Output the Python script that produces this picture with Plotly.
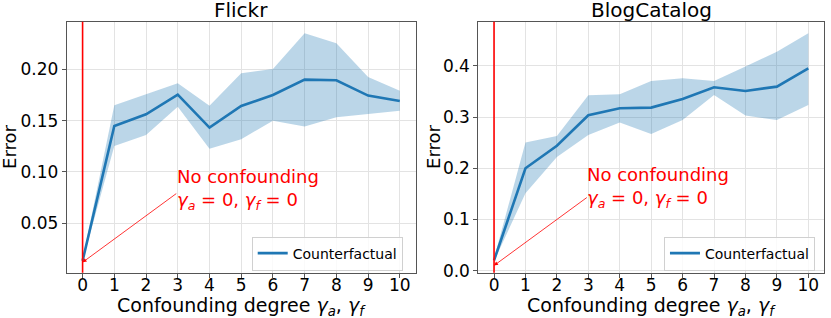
import plotly.graph_objects as go

degrees = list(range(11))

flickr_mean = [0.0135, 0.1448, 0.1562, 0.1753, 0.1432, 0.1643, 0.1750, 0.1900, 0.1893, 0.1744, 0.1692]
flickr_upper = [0.0150, 0.1650, 0.1757, 0.1864, 0.1646, 0.1962, 0.2003, 0.2352, 0.2254, 0.1925, 0.1792]
flickr_lower = [0.0131, 0.1253, 0.1361, 0.1636, 0.1227, 0.1319, 0.1500, 0.1442, 0.1533, 0.1562, 0.1597]

blog_mean = [0.0200, 0.2000, 0.2440, 0.3037, 0.3174, 0.3186, 0.3355, 0.3584, 0.3512, 0.3596, 0.3955]
blog_upper = [0.0240, 0.2502, 0.2633, 0.3427, 0.3447, 0.3707, 0.3760, 0.3707, 0.3987, 0.4280, 0.4639]
blog_lower = [0.0183, 0.1510, 0.2220, 0.2652, 0.2893, 0.2672, 0.2945, 0.3434, 0.3030, 0.2945, 0.3238]

titles = ["Flickr", "BlogCatalog"]
series_name = "Counterfactual"
FONT = "DejaVu Sans"
BLUE = "#1f77b4"
BAND = "rgba(31,119,180,0.3)"

fig = go.Figure()

panels = [
    (flickr_mean, flickr_upper, flickr_lower, "x", "y", "legend"),
    (blog_mean, blog_upper, blog_lower, "x2", "y2", "legend2"),
]
for mean, up, lo, xa, ya, lg in panels:
    fig.add_trace(go.Scatter(x=degrees, y=up, mode="lines", line=dict(width=0, color=BAND),
                             showlegend=False, xaxis=xa, yaxis=ya, hoverinfo="skip"))
    fig.add_trace(go.Scatter(x=degrees, y=lo, mode="lines", line=dict(width=0, color=BAND),
                             fill="tonexty", fillcolor=BAND, showlegend=False,
                             xaxis=xa, yaxis=ya, hoverinfo="skip"))
    fig.add_trace(go.Scatter(x=degrees, y=mean, mode="lines", line=dict(width=2.6, color=BLUE),
                             name=series_name, showlegend=True, legend=lg,
                             xaxis=xa, yaxis=ya))

xtitle = "Confounding degree <i>γ</i><sub><i>a</i></sub>, <i>γ</i><sub><i>f</i></sub>"
common_axis = dict(showline=True, linecolor="#555", linewidth=1, mirror=True,
                   showgrid=True, gridcolor="#e3e3e3", gridwidth=1, zeroline=False,
                   ticks="outside", ticklen=4, tickcolor="#555",
                   tickfont=dict(family=FONT, size=17, color="black"), automargin=False)

fig.update_layout(
    width=831, height=318,
    margin=dict(l=0, r=0, t=0, b=0),
    plot_bgcolor="white", paper_bgcolor="white",
    font=dict(family=FONT, color="black"),
    xaxis=dict(domain=[0.0803, 0.5002], range=[-0.5, 10.5], tickvals=degrees, anchor="y",
               ticklabelstandoff=-7, **common_axis),
    yaxis=dict(domain=[0.1425, 0.9318], range=[0.0019, 0.2464], tickvals=[0.05, 0.10, 0.15, 0.20],
               tickformat=".2f", anchor="x", **common_axis),
    xaxis2=dict(domain=[0.5756, 0.9916], range=[-0.5, 10.5], tickvals=degrees, anchor="y2",
                ticklabelstandoff=-7, **common_axis),
    yaxis2=dict(domain=[0.1425, 0.9318], range=[-0.004, 0.4865], tickvals=[0.0, 0.1, 0.2, 0.3, 0.4],
                tickformat=".1f", anchor="x2", **common_axis),
    legend=dict(x=0.3029, y=0.2028, xanchor="left", yanchor="middle",
                bgcolor="rgba(255,255,255,0.8)", bordercolor="#d0d0d0", borderwidth=1,
                font=dict(family=FONT, size=14), itemwidth=30),
    legend2=dict(x=0.799, y=0.2028, xanchor="left", yanchor="middle",
                 bgcolor="rgba(255,255,255,0.8)", bordercolor="#d0d0d0", borderwidth=1,
                 font=dict(family=FONT, size=14), itemwidth=30),
)

for xa, ya in [("x", "y"), ("x2", "y2")]:
    fig.add_shape(type="line", xref=xa, yref=ya + " domain", x0=0, x1=0, y0=0, y1=1,
                  line=dict(color="red", width=1.6))

# titles and axis titles
for xa, t in zip(["x", "x2"], titles):
    fig.add_annotation(text=t, xref=xa + " domain", yref="paper", x=0.5, y=0.9686,
                       xanchor="center", yanchor="middle", showarrow=False,
                       font=dict(family=FONT, size=20, color="black"))
    fig.add_annotation(text=xtitle, xref=xa + " domain", yref="paper", x=0.5, y=0.036,
                       xanchor="center", yanchor="middle", showarrow=False,
                       font=dict(family=FONT, size=19, color="black"))
for xpos in [0.0108, 0.521]:
    fig.add_annotation(text="Error", xref="paper", yref="paper", x=xpos, y=0.5377,
                       xanchor="center", yanchor="middle", textangle=-90, showarrow=False,
                       font=dict(family=FONT, size=18, color="black"))

note = "No confounding<br><i>γ</i><sub><i>a</i></sub> = 0, <i>γ</i><sub><i>f</i></sub> = 0"
annots = [("x", "y", 0.012, 0.08, 0.108), ("x2", "y2", 0.010, 0.145, 0.213)]
for xa, ya, tip, tail, ttop in annots:
    fig.add_annotation(x=0, y=tip, ax=3, ay=tail, xref=xa, yref=ya, axref=xa, ayref=ya,
                       text="", showarrow=True, arrowhead=2, arrowsize=1, arrowwidth=0.8,
                       arrowcolor="red")
    fig.add_annotation(x=3, y=ttop, xref=xa, yref=ya, text=note, showarrow=False,
                       xanchor="left", yanchor="top", align="left", xshift=-3,
                       font=dict(family=FONT, size=18, color="red"))

fig.write_html("out.html", config={"displayModeBar": False},
               post_script="document.body.style.margin='0';")
